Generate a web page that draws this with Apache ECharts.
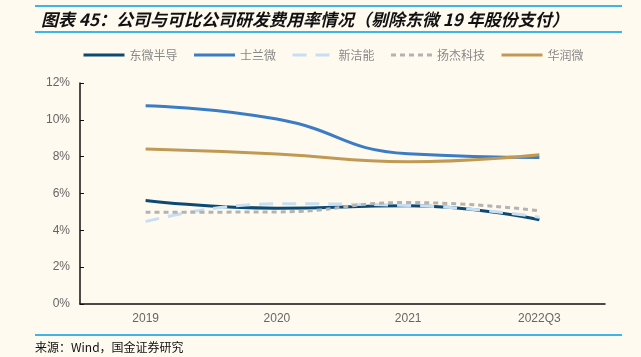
<!DOCTYPE html>
<html><head><meta charset="utf-8">
<script src="https://cdn.jsdelivr.net/npm/echarts@6/dist/echarts.min.js"></script>
<style>html,body{margin:0;padding:0;background:#fefaef;}#c{width:641px;height:357px;}</style>
</head><body><div id="c"></div>
<script>
const categories = ['2019', '2020', '2021', '2022Q3'];
const dongwei = [5.62, 5.20, 5.33, 4.57];
const shilanwei = [10.77, 10.04, 8.16, 7.96];
const xinjieneng = [4.47, 5.44, 5.35, 4.71];
const yangjie = [4.98, 5.00, 5.51, 5.06];
const huarunwei = [8.41, 8.14, 7.72, 8.10];
const yTicks = [0, 2, 4, 6, 8, 10, 12];

const chart = echarts.init(document.getElementById('c'));
const font = '"Noto Sans CJK SC", "Liberation Sans", sans-serif';
function s(name, data, color, type) {
  return { name, type: 'line', data, smooth: 0.5, symbol: 'none',
    lineStyle: { color, width: 3, type: type || 'solid' }, itemStyle: { color } };
}
chart.setOption({
  backgroundColor: '#fefaef',
  animation: false,
  title: {
    text: '图表 45：公司与可比公司研发费用率情况（剔除东微 19 年股份支付）',
    left: 36, top: 6,
    textStyle: { fontFamily: font, fontSize: 17, fontWeight: 'bold', fontStyle: 'italic', color: '#111' }
  },
  graphic: [
    { type: 'line', shape: { x1: 35, y1: 6, x2: 622, y2: 6 }, style: { stroke: '#3db5ea', lineWidth: 2 } },
    { type: 'line', shape: { x1: 35, y1: 32, x2: 622, y2: 32 }, style: { stroke: '#3db5ea', lineWidth: 2 } },
    { type: 'line', shape: { x1: 35, y1: 335, x2: 622, y2: 335 }, style: { stroke: '#3db5ea', lineWidth: 2 } },
    { type: 'text', left: 35, top: 341, style: { text: '来源：Wind，国金证券研究', font: '12px ' + font, fill: '#111' } }
  ],
  legend: {
    left: 77, top: 44, itemWidth: 41, itemHeight: 10, itemGap: 15,
    itemStyle: { opacity: 0 },
    lineStyle: { width: 3 },
    textStyle: { fontFamily: font, fontSize: 12, color: '#888' },
    data: ['东微半导', '士兰微', '新洁能', '扬杰科技', '华润微']
  },
  grid: { left: 80, right: 36, top: 83, bottom: 53 },
  xAxis: {
    type: 'category', data: categories, boundaryGap: true,
    axisLine: { lineStyle: { color: '#111', width: 1.5 } },
    axisTick: { inside: true, length: 4, lineStyle: { color: '#111' } },
    axisLabel: { color: '#666', fontSize: 12, fontFamily: '"Liberation Sans", sans-serif', margin: 9 }
  },
  yAxis: {
    type: 'value', min: yTicks[0], max: yTicks[yTicks.length - 1], interval: 2,
    axisLine: { show: true, lineStyle: { color: '#111', width: 1.5 } },
    axisTick: { show: true, inside: true, length: 4, lineStyle: { color: '#111' } },
    splitLine: { show: false },
    axisLabel: { color: '#666', fontSize: 12, fontFamily: '"Liberation Sans", sans-serif', margin: 10, formatter: v => v + '%' }
  },
  series: [
    s('东微半导', dongwei, '#0c4a73'),
    s('士兰微', shilanwei, '#3b7cc4'),
    s('新洁能', xinjieneng, '#c8def2', [14, 9]),
    s('扬杰科技', yangjie, '#b3b3b3', [5, 4]),
    s('华润微', huarunwei, '#c09a55')
  ]
});
</script></body></html>
